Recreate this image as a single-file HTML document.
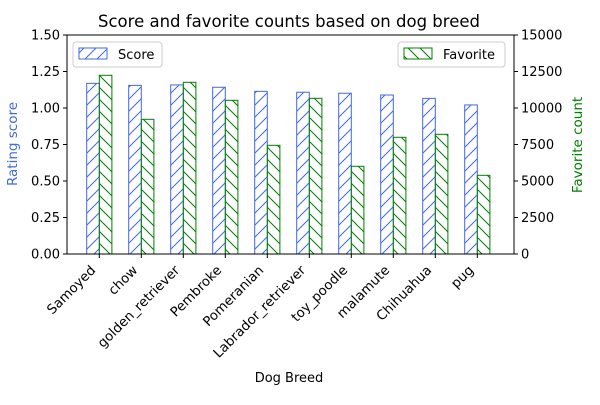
<!DOCTYPE html>
<html><head><meta charset="utf-8"><style>
body{margin:0;background:#fff;}
svg text{font-family:"DejaVu Sans","Liberation Sans",sans-serif;}
</style></head><body>
<svg id="chart" width="600" height="400" xmlns="http://www.w3.org/2000/svg">
<defs>
<pattern id="hatchBlue" patternUnits="userSpaceOnUse" width="12" height="12"><path d="M-3,3 l6,-6 M0,12 l12,-12 M9,15 l6,-6" stroke="#4169e1" stroke-width="1"/></pattern>
<pattern id="hatchGreen" patternUnits="userSpaceOnUse" width="12" height="12"><path d="M-3,9 l6,6 M0,0 l12,12 M9,-3 l6,6" stroke="#008000" stroke-width="1"/></pattern>
</defs>
<g id="plot"></g>
</svg>
<script>
const categories=["Samoyed","chow","golden_retriever","Pembroke","Pomeranian","Labrador_retriever","toy_poodle","malamute","Chihuahua","pug"];
const scores=[1.169,1.155,1.158,1.142,1.114,1.108,1.101,1.089,1.066,1.021];
const favorites=[12240,9226,11760,10527,7445,10664,6007,7993,8199,5390];
const leftTicks=["0.00","0.25","0.50","0.75","1.00","1.25","1.50"];
const rightTicks=["0","2500","5000","7500","10000","12500","15000"];
const NS="http://www.w3.org/2000/svg";
const g=document.getElementById('plot');
const L=67,R=514,T=35,B=254;
const xs=i=>99.3+i*42;
const yL=v=>B-(v/1.5)*(B-T);
const yR=v=>B-(v/15000)*(B-T);
const bw=12.6;
function mk(tag,attrs,txt){const e=document.createElementNS(NS,tag);for(const k in attrs)e.setAttribute(k,attrs[k]);if(txt!==undefined)e.textContent=txt;g.appendChild(e);return e;}
categories.forEach((c,i)=>{
  const y1=yL(scores[i]);
  const b=mk('rect',{x:xs(i)-bw,y:y1,width:bw,height:B-y1,fill:'url(#hatchBlue)',stroke:'#4169e1','stroke-width':1});
  
  
  const y2=yR(favorites[i]);
  const f=mk('rect',{x:xs(i),y:y2,width:bw,height:B-y2,fill:'url(#hatchGreen)',stroke:'#008000','stroke-width':1});
  
  
  mk('line',{x1:xs(i),x2:xs(i),y1:B,y2:B+4,stroke:'#000'});
  const t=mk('text',{x:0,y:0,'font-size':13.3,'text-anchor':'end',transform:`translate(${xs(i)-3},${B+17}) rotate(-45)`},c);
  
  
});
leftTicks.forEach(s=>{const y=yL(parseFloat(s));mk('line',{x1:L-4,x2:L,y1:y,y2:y,stroke:'#000'});
  const t=mk('text',{x:L-7,y:y+4.5,'font-size':13,'text-anchor':'end'},s);
  
  });
rightTicks.forEach(s=>{const y=yR(parseFloat(s));mk('line',{x1:R,x2:R+4,y1:y,y2:y,stroke:'#000'});
  const t=mk('text',{x:R+7,y:y+4.5,'font-size':13},s);
  
  });
const fr=mk('rect',{x:L,y:T,width:R-L,height:B-T,fill:'none',stroke:'#000','stroke-width':1});


</script>
<svg width="600" height="400" style="position:absolute;left:0;top:0" xmlns="http://www.w3.org/2000/svg">
<text x="289" y="27" font-size="16.5" text-anchor="middle">Score and favorite counts based on dog breed</text>
<text x="289" y="382" font-size="13" text-anchor="middle">Dog Breed</text>
<text transform="translate(17,144) rotate(-90)" font-size="13.5" text-anchor="middle" fill="#4169e1">Rating score</text>
<text transform="translate(582,145) rotate(-90)" font-size="13.5" text-anchor="middle" fill="#008000">Favorite count</text>
<g>
<rect x="73" y="42" width="89" height="25" rx="3" fill="#fff" fill-opacity="0.8" stroke="#ccc"/>
<rect x="79" y="48" width="28" height="11" fill="url(#hatchBlue)" stroke="#4169e1"/>
<text x="118" y="59" font-size="13">Score</text></g>
<g>
<rect x="398" y="42" width="107" height="25" rx="3" fill="#fff" fill-opacity="0.8" stroke="#ccc"/>
<rect x="404" y="48" width="28" height="11" fill="url(#hatchGreen)" stroke="#008000"/>
<text x="443" y="59" font-size="13">Favorite</text></g>
</svg>
</body></html>
